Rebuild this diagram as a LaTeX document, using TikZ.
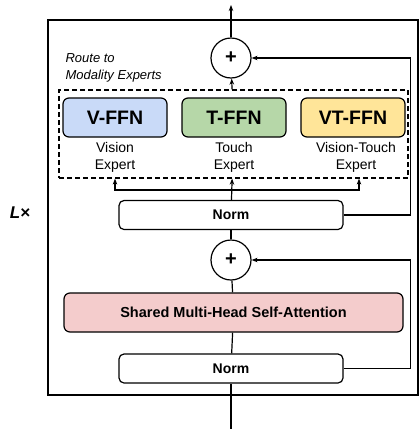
\documentclass[tikz,border=0pt]{standalone}
\usepackage{fontspec}
\setmainfont{Liberation Sans}
\usepackage{tikz}
\usetikzlibrary{arrows.meta,positioning,calc}

\definecolor{vblue}{HTML}{C9DAF8}
\definecolor{tgreen}{HTML}{B6D7A8}
\definecolor{vtyellow}{HTML}{FFE599}
\definecolor{attnpink}{HTML}{F4CCCC}

\begin{document}
\begin{tikzpicture}[
  x=1pt, y=-1pt,
  line width=1.2pt,
  >={Stealth[length=6pt,width=4.5pt]},
  expert/.style={draw, rounded corners=6pt, minimum width=104pt, minimum height=39pt, inner sep=0pt, font=\fontsize{19.5}{22}\selectfont\bfseries},
  normbox/.style={draw, rounded corners=5pt, fill=white, minimum width=224pt, minimum height=29pt, inner sep=0pt, font=\fontsize{14}{17}\selectfont\bfseries},
  addop/.style={draw, circle, fill=white, minimum size=40pt, inner sep=0pt, font=\fontsize{20}{22}\selectfont\bfseries},
  tag/.style={align=center, inner sep=0pt, font=\fontsize{14}{17}\selectfont},
  arr/.style={->, line width=1.2pt}
]
\useasboundingbox (0,0) rectangle (419,429);

% transformer layer
\node[draw, line width=1.4pt, minimum width=370pt, minimum height=375pt, inner sep=0pt] (layer) at (233,207.5) {};
\node[font=\fontsize{17}{20}\selectfont\bfseries\itshape] (rep) at (20,213) {L×};

\coordinate (inp) at (231,429);
\coordinate (outp) at (231,5);

\node[normbox] (norm1) at (231,368.5) {Norm};
\node[draw, rounded corners=6pt, fill=attnpink, minimum width=339pt, minimum height=39pt, inner sep=0pt, font=\fontsize{14.5}{17}\selectfont\bfseries] (mhsa) at (233.5,312.5) {Shared Multi-Head Self-Attention};
\node[addop] (add1) at (231,260) {+};
\node[normbox] (norm2) at (231,215) {Norm};

% modality experts
\node[draw, dash pattern=on 5pt off 3pt, minimum width=349pt, minimum height=88pt, inner sep=0pt] (route) at (233.5,134) {};
\node[expert, fill=vblue] (vffn) at (115,117.5) {V-FFN};
\node[expert, fill=tgreen] (tffn) at (234,117.5) {T-FFN};
\node[expert, fill=vtyellow] (vtffn) at (353,117.5) {VT-FFN};
\node[tag] (vlbl) at (115,157) {Vision\\Expert};
\node[tag] (tlbl) at (234,157) {Touch\\Expert};
\node[tag] (vtlbl) at (356,157) {Vision-Touch\\Expert};
\node[tag, align=left, anchor=west, font=\fontsize{13}{16.5}\selectfont\itshape] (routelbl) at (65,68) {Route to\\Modality Experts};

\node[addop] (add2) at (231,58) {+};

% main path
\draw (inp) -- (norm1);
\draw (norm1) -- (mhsa);
\draw (mhsa) -- (add1);
\draw (add1) -- (norm2);
\draw[arr] (norm2) -- (route);
\coordinate (split) at (231,190);
\draw[arr] (split) -| (route.south -| vffn);
\draw[arr] (split) -| ($(route.south -| vtffn)+(6,0)$);
\draw[arr] (route) -- (add2);
\draw[arr] (add2) -- (outp);

% residuals
\draw[arr] (norm1.east) -- ++(67,0) |- (add1.east);
\draw[arr] (norm2.east) -- ++(67,0) |- (add2.east);
\end{tikzpicture}
\end{document}
